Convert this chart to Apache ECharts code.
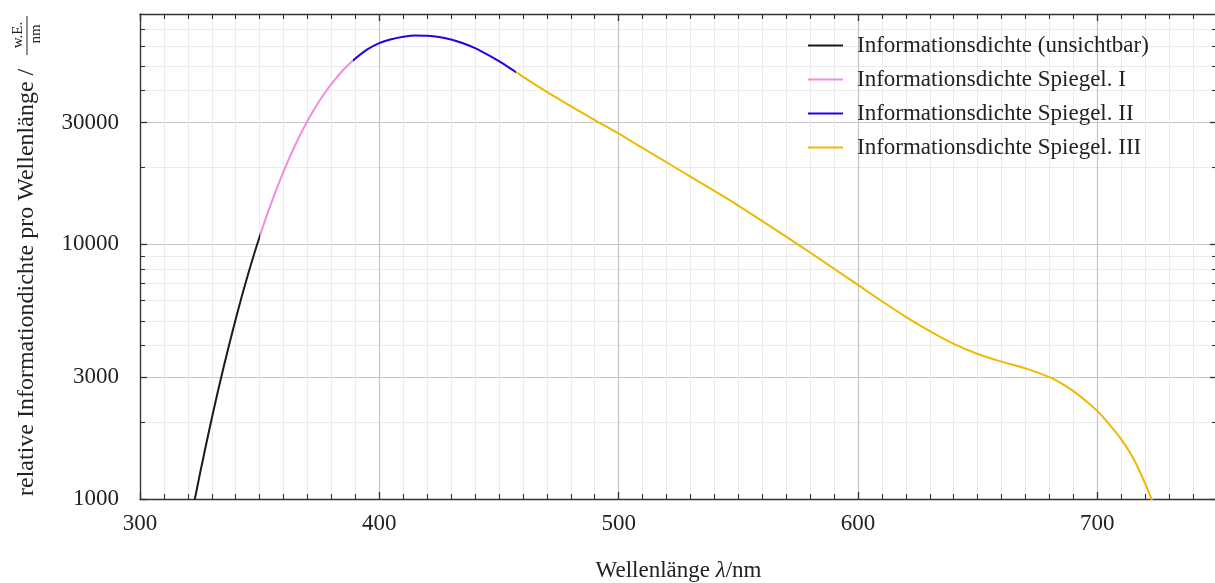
<!DOCTYPE html>
<html>
<head>
<meta charset="utf-8">
<script src="https://cdn.jsdelivr.net/npm/echarts@6/dist/echarts.min.js"></script>
<style>
  html, body { margin: 0; padding: 0; background: #fff; }
  #chart { width: 1215px; height: 583px; }
</style>
</head>
<body>
<div id="chart"></div>
<script>
"use strict";
var serif = 'Liberation Serif';
var textColor = '#222';

// wavelength in nm and relative information density
var wavelengths = [320, 325, 330, 335, 340, 345, 350, 355, 360, 365, 370, 375, 380, 385, 389,
	395, 400, 405, 410, 415, 420, 425, 430, 435, 440, 445, 450, 457, 467, 478, 490, 500, 510, 520,
	530, 540, 550, 560, 570, 580, 590, 600, 610, 620, 630, 640, 650, 660, 670, 680, 685, 690, 695,
	700, 705, 710, 715, 720, 726];
var density = [726, 1250, 2075, 3310, 5090, 7530, 10720, 14620, 19320, 24660, 30480, 36560, 42560,
	48360, 52600, 58150, 61520, 63680, 65160, 65920, 65770, 64940, 63530, 61410, 58730, 55540, 52240,
	47370, 41210, 35650, 30690, 27130, 23840, 20960, 18390, 16170, 14170, 12320, 10700, 9270, 8010,
	6918, 5970, 5188, 4560, 4064, 3707, 3459, 3254, 3006, 2844, 2649, 2435, 2213, 1963, 1714, 1445,
	1148, 832];

// where each coloured part of the curve starts and ends
var seriesNames = ['Informationsdichte (unsichtbar)', 'Informationsdichte Spiegel. I',
	'Informationsdichte Spiegel. II', 'Informationsdichte Spiegel. III'];
var seriesRanges = [[300, 350], [350, 389], [389, 457], [457, 750]];
var seriesColors = ['#1a1a1a', '#f28ce0', '#2200ee', '#f2b800'];

var xTicks = [300, 400, 500, 600, 700];
var yMajor = [1000, 3000, 10000, 30000];
var yMinor = [2000, 4000, 5000, 6000, 7000, 8000, 9000, 20000, 40000, 50000, 60000, 70000];

var curve = wavelengths.map(function(w, i) {
	return [w, density[i]];
});

// every series follows the whole smooth curve, a visualMap shows only its own part
var series = seriesNames.map(function(name, i) {
	return {
		name : name,
		type : 'line',
		xAxisIndex : 0,
		yAxisIndex : 0,
		data : curve,
		smooth : 0.3,
		symbol : 'none',
		color : seriesColors[i],
		lineStyle : { width : 2 },
		z : 5 + i
	};
});

var visualMaps = seriesRanges.map(function(r, i) {
	return {
		type : 'piecewise',
		show : false,
		seriesIndex : i,
		dimension : 0,
		pieces : [ { gte : r[0], lte : r[1], color : seriesColors[i] } ],
		outOfRange : { color : 'rgba(0,0,0,0)' }
	};
});

var legendData = seriesNames.map(function(name, i) {
	return { name : name, itemStyle : { color : seriesColors[i] } };
});

function yAxisDef(values, opts) {
	return Object.assign({
		type : 'log',
		logBase : 10,
		min : 1000,
		max : 80000,
		axisLine : { show : false },
		axisTick : { show : true, inside : true, customValues : values,
			lineStyle : { color : '#333', width : 1.3 } },
		axisLabel : { show : false },
		splitLine : { show : false }
	}, opts);
}

function xAxisDef(opts) {
	return Object.assign({
		type : 'value',
		min : 300,
		max : 750,
		interval : 100,
		axisLine : { show : true, onZero : false, lineStyle : { color : '#333', width : 1.3 } },
		axisTick : { show : true, inside : true, length : 7, lineStyle : { color : '#333', width : 1.3 } },
		minorTick : { show : true, splitNumber : 10, length : 5, lineStyle : { color : '#333', width : 1.1 } },
		axisLabel : { show : false },
		splitLine : { show : false },
		minorSplitLine : { show : false }
	}, opts);
}

var chart = echarts.init(document.getElementById('chart'), null, { renderer : 'canvas' });

chart.setOption({
	backgroundColor : '#fff',
	animation : false,
	grid : { left : 140, top : 14, right : -2, bottom : 84, outerBoundsMode : 'none', containLabel : false },
	legend : {
		orient : 'vertical',
		left : 803,
		top : 29,
		icon : 'rect',
		itemWidth : 35,
		itemHeight : 2,
		itemGap : 11,
		data : legendData,
		textStyle : { fontFamily : serif, fontSize : 23, color : textColor, lineHeight : 23,
			padding : [0, 0, 0, 9] }
	},
	visualMap : visualMaps,
	xAxis : [
		xAxisDef({
			position : 'bottom',
			axisLabel : { show : true, showMaxLabel : false, margin : 13, fontFamily : serif,
				fontSize : 23, color : textColor,
				formatter : function(v) { return xTicks.indexOf(v) >= 0 ? String(v) : ''; } },
			splitLine : { show : true, lineStyle : { color : '#c4c4c4', width : 1.2 } },
			minorSplitLine : { show : true, lineStyle : { color : '#ebebeb', width : 1 } },
			name : 'Wellenlänge {i|λ}/nm',
			nameLocation : 'middle',
			nameGap : 60,
			nameTextStyle : { fontFamily : serif, fontSize : 23, color : textColor,
				rich : { i : { fontFamily : serif, fontStyle : 'italic', fontSize : 23, color : textColor } } }
		}),
		xAxisDef({ position : 'top' })
	],
	yAxis : [
		yAxisDef(yMajor, {
			position : 'left',
			axisLine : { show : true, onZero : false, lineStyle : { color : '#333', width : 1.3 } },
			axisTick : { show : true, inside : true, length : 7, customValues : yMajor,
				lineStyle : { color : '#333', width : 1.3 } },
			axisLabel : { show : true, customValues : yMajor, margin : 21, fontFamily : serif,
				fontSize : 23, color : textColor,
				formatter : function(v) { return String(v); } },
			splitLine : { show : true, lineStyle : { color : '#c4c4c4', width : 1.2 } }
		}),
		yAxisDef(yMinor, {
			position : 'left',
			axisTick : { show : true, inside : true, length : 5, customValues : yMinor,
				lineStyle : { color : '#333', width : 1.1 } },
			splitLine : { show : true, lineStyle : { color : '#ebebeb', width : 1 } }
		}),
		yAxisDef(yMajor, {
			position : 'right',
			axisTick : { show : true, inside : true, length : 7, customValues : yMajor,
				lineStyle : { color : '#333', width : 1.3 } }
		}),
		yAxisDef(yMinor, {
			position : 'right',
			axisTick : { show : true, inside : true, length : 5, customValues : yMinor,
				lineStyle : { color : '#333', width : 1.1 } }
		})
	],
	graphic : [
		{
			type : 'text',
			x : 27,
			y : 496,
			rotation : Math.PI / 2,
			style : { text : 'relative Informationdichte pro Wellenlänge /', font : '24px "Liberation Serif"',
				fill : textColor, textAlign : 'left', textVerticalAlign : 'middle' }
		},
		{
			type : 'text',
			x : 18,
			y : 35,
			rotation : Math.PI / 2,
			style : { text : 'w.E.', font : '15px "Liberation Serif"', fill : textColor,
				textAlign : 'center', textVerticalAlign : 'middle' }
		},
		{
			type : 'line',
			shape : { x1 : 27, y1 : 16, x2 : 27, y2 : 55 },
			style : { stroke : textColor, lineWidth : 1 }
		},
		{
			type : 'text',
			x : 36,
			y : 34,
			rotation : Math.PI / 2,
			style : { text : 'nm', font : '15px "Liberation Serif"', fill : textColor,
				textAlign : 'center', textVerticalAlign : 'middle' }
		}
	],
	series : series
});
</script>
</body>
</html>
